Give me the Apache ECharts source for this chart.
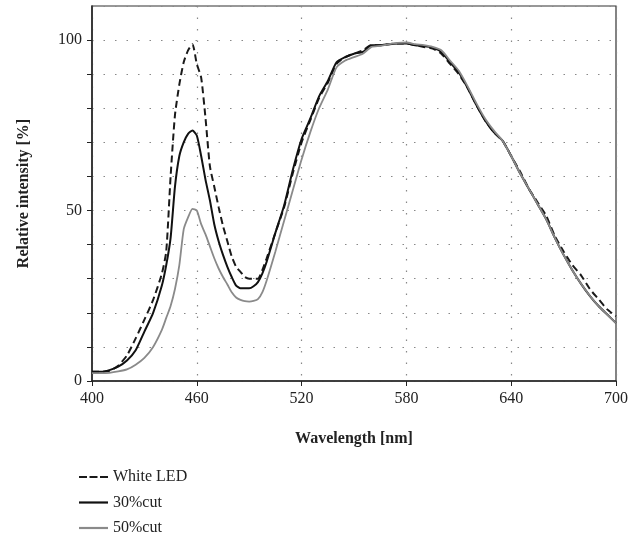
<!DOCTYPE html>
<html>
<head>
    <meta charset="utf-8" />
    <title>Spectrum</title>
    <script type="text/javascript" src="https://cdn.jsdelivr.net/npm/echarts@6/dist/echarts.min.js"></script>
    <style>
        html, body { margin: 0; padding: 0; background: #fff; }
        #chart { width: 642px; height: 539px; }
    </style>
</head>
<body>
<div id="chart"></div>
<script type="text/javascript">
    // wavelengths (nm), finer steps around the blue peak
    var wavelength = [400, 405, 410, 415, 420, 425, 430, 435, 440, 442.5, 445, 447.5, 450, 452.5, 455, 457.5,
        460, 462.5, 465, 467.5, 470, 472.5, 475, 477.5, 480, 482.5, 485, 487.5, 490, 492.5, 495, 497.5,
        500, 505, 510, 515, 520, 525, 530, 535, 540, 545, 550, 555, 560, 565, 570, 575, 580, 585, 590,
        595, 600, 605, 610, 615, 620, 625, 630, 635, 640, 645, 650, 655, 660, 665, 670, 675, 680, 685,
        690, 695, 700];

    var whiteLed = [2.7, 2.7, 3.0, 4.5, 7.5, 12.5, 18, 23.8, 31.5, 38, 60, 78, 87, 93.5, 97, 98.8,
        93, 89, 77, 63, 57, 51, 45.5, 41, 36.5, 33.5, 32, 30.5, 30, 30, 30, 32.5,
        36, 43.5, 51, 61, 70, 76.5, 83, 87.5, 93, 95, 96, 97, 98.5, 98.5, 98.8, 99, 99, 98.5, 98,
        97.5, 96, 93, 90, 86, 81, 76.5, 73, 70.5, 66, 61.5, 56.5, 52.5, 48.5, 42.5, 38, 34, 31, 27,
        24, 21, 19];

    var cut30 = [2.7, 2.7, 3.2, 4.2, 6, 9, 14.5, 20, 28, 34, 42, 57, 66, 70, 72.5, 73.5,
        72, 66, 59, 53, 46, 41, 37, 33.5, 30.5, 28, 27.2, 27.2, 27.2, 27.8, 29, 31.5,
        35, 43.5, 51.5, 62, 71, 77, 83.5, 88, 93.5, 95, 96, 96.5, 98.5, 98.5, 98.8, 99, 99, 98.5, 98.3,
        97.8, 96.5, 93.5, 90.5, 86, 81, 76.5, 73, 70.5, 66, 61, 56.5, 52, 47.5, 42, 37, 32.5, 28.5, 25,
        22, 19.5, 17];

    var cut50 = [2.3, 2.3, 2.4, 2.8, 3.4, 4.8, 6.8, 10, 15, 18.5, 22, 27, 34, 44.5, 48, 50.5,
        50, 46, 43, 39.5, 36, 33, 30.5, 28.3, 26, 24.5, 23.8, 23.4, 23.3, 23.5, 24, 26,
        29.5, 38, 47, 56, 65, 73, 80, 85.5, 92, 94, 95, 96, 98, 98.3, 98.8, 99.2, 99.3, 98.8, 98.5,
        98, 97, 94, 91, 86.5, 81.5, 77, 73.5, 70.5, 66, 61, 56.5, 52, 47.5, 42, 37, 32.5, 28.5, 25,
        22, 19.5, 17];

    var yLabels = [0, 50, 100];

    function pairs(values) {
        var out = [];
        for (var i = 0; i < wavelength.length; i++) {
            out.push([wavelength[i], values[i]]);
        }
        return out;
    }

    var font = 'Liberation Serif';
    var myChart = echarts.init(document.getElementById('chart'));

    // legend icons: a dashed bar and plain bars
    var dashIcon = 'path://M0,0h8v2h-8z M10.5,0h8v2h-8z M21,0h8v2h-8z';

    var option = {
        animation: false,
        backgroundColor: '#fff',
        grid: {
            left: 92, right: 26, top: 6, height: 375,
            show: true, borderColor: '#333', borderWidth: 1.2
        },
        legend: {
            orient: 'vertical',
            left: 74, top: 464, height: 90,
            itemWidth: 29, itemHeight: 2.2, itemGap: 9.5,
            textStyle: { fontFamily: font, fontSize: 16, color: '#222' },
            data: [
                { name: 'White LED', icon: dashIcon },
                { name: '30%cut', icon: 'rect' },
                { name: '50%cut', icon: 'rect' }
            ]
        },
        xAxis: {
            type: 'value',
            min: 400, max: 700, interval: 60,
            name: 'Wavelength [nm]',
            nameLocation: 'middle',
            nameGap: 50,
            nameTextStyle: { fontFamily: font, fontSize: 16, fontWeight: 'bold', color: '#222' },
            axisLine: { show: true, lineStyle: { color: '#222', width: 1.5 } },
            axisTick: { show: true, inside: false, length: 5, lineStyle: { color: '#222' } },
            axisLabel: { fontFamily: font, fontSize: 16, color: '#222', margin: 10 },
            splitLine: { show: true, lineStyle: { color: '#888', width: 1.2, type: [1.5, 10] } }
        },
        yAxis: {
            type: 'value',
            min: 0, max: 110, interval: 10,
            name: 'Relative intensity [%]',
            nameLocation: 'middle',
            nameGap: 60,
            nameTextStyle: { fontFamily: font, fontSize: 16, fontWeight: 'bold', color: '#222' },
            axisLine: { show: true, lineStyle: { color: '#222', width: 1.5 } },
            axisTick: { show: true, inside: false, length: 5, lineStyle: { color: '#222' } },
            axisLabel: {
                fontFamily: font, fontSize: 16, color: '#222', margin: 10,
                showMaxLabel: false,
                formatter: function (v) { return yLabels.indexOf(v) >= 0 ? String(v) : ''; }
            },
            splitLine: { show: true, lineStyle: { color: '#888', width: 1.2, type: [1.5, 10] } }
        },
        series: [
            {
                name: 'White LED', type: 'line', symbol: 'none', smooth: 0.2,
                lineStyle: { color: '#1a1a1a', width: 2, type: [7, 4] },
                itemStyle: { color: '#1a1a1a' },
                data: pairs(whiteLed)
            },
            {
                name: '30%cut', type: 'line', symbol: 'none', smooth: 0.2,
                lineStyle: { color: '#111', width: 2 },
                itemStyle: { color: '#111' },
                data: pairs(cut30)
            },
            {
                name: '50%cut', type: 'line', symbol: 'none', smooth: 0.2,
                lineStyle: { color: '#8a8a8a', width: 1.8 },
                itemStyle: { color: '#8a8a8a' },
                data: pairs(cut50)
            }
        ]
    };
    myChart.setOption(option);
</script>
</body>
</html>
